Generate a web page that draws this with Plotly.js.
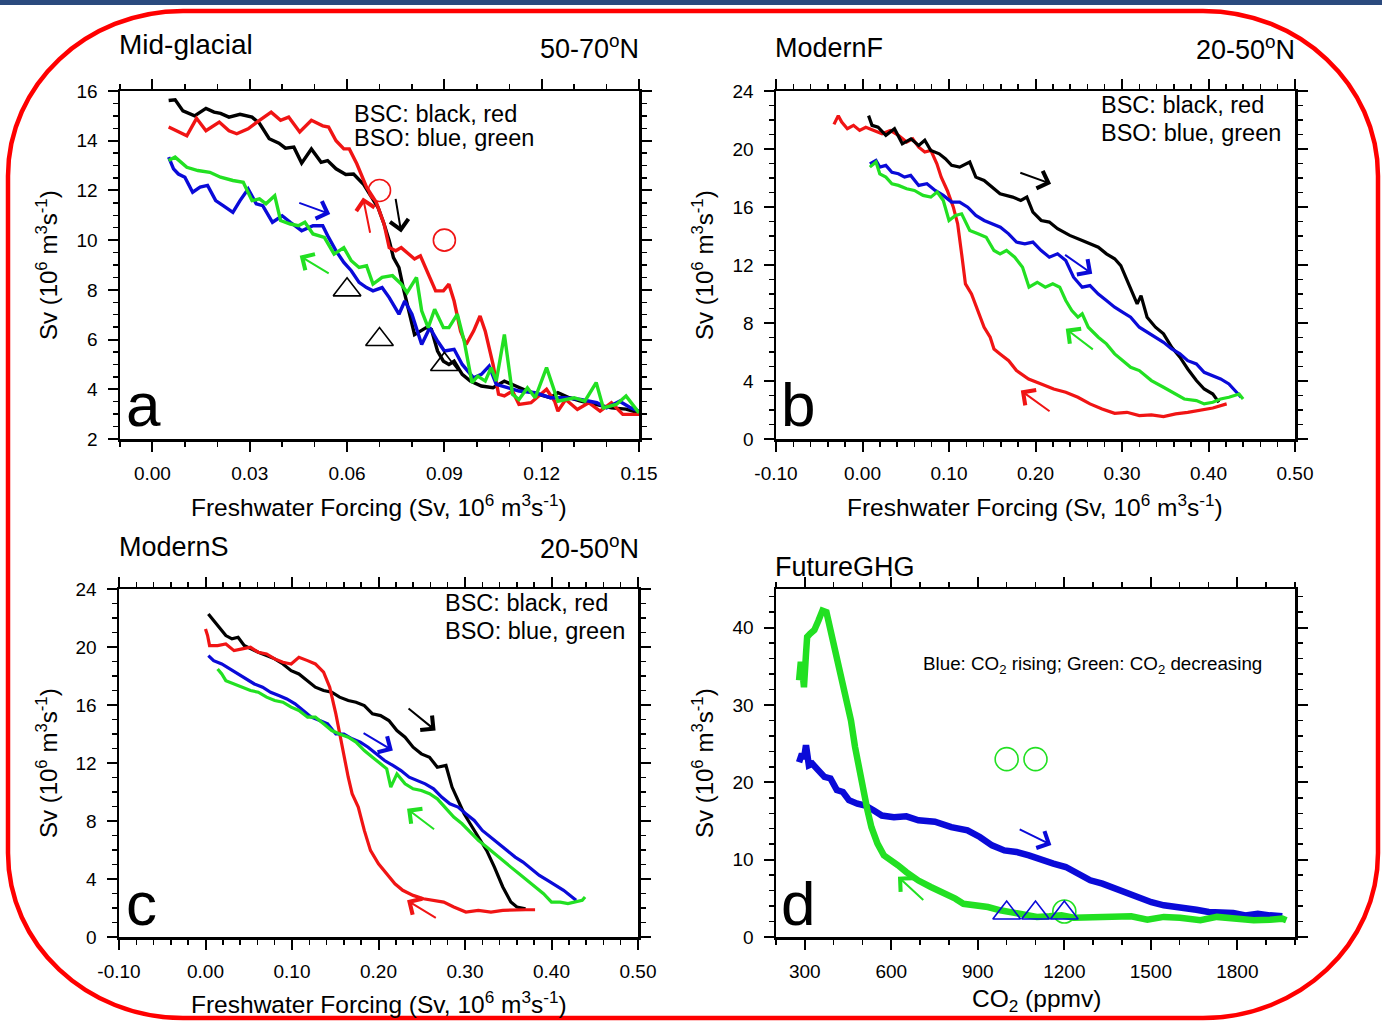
<!DOCTYPE html>
<html><head><meta charset="utf-8">
<script src="https://cdn.plot.ly/plotly-3.0.1.min.js"></script>
<style>html,body{margin:0;padding:0;background:#fff;}#chart{width:1382px;height:1024px;}</style>
</head><body><div id="chart"></div>
<script>
// ---------------- Panel a: Mid-glacial 50-70N ----------------
const aBlackX = [0.005,0.007,0.0094,0.013,0.0165,0.019,0.021,0.0236,0.027,0.0307,0.033,0.036,0.039,0.041,0.0436,0.046,0.049,0.052,0.054,0.0566,0.0596,0.062,0.065,0.067,0.0696,0.0714,0.073,0.0743,0.076,0.0773,0.0785,0.0796,0.0808,0.0826,0.0844,0.086,0.0879,0.0897,0.0914,0.093,0.0955,0.098,0.1014,0.105,0.1085,0.112,0.1156,0.119,0.1227,0.125,0.1285,0.132,0.137,0.1415,0.146,0.15];
const aBlackY = [15.62,15.65,15.2,15.0,15.3,15.15,15.1,14.95,15.06,14.95,14.7,14.08,13.9,13.7,13.74,13.1,13.67,13.13,13.2,12.87,12.64,12.66,12.26,11.86,11.3,10.65,9.98,9.3,8.9,8.1,7.42,6.75,6.2,6.34,6.48,6.4,5.54,5.13,5.0,5.13,4.6,4.33,4.13,4.06,4.33,4.13,3.93,3.8,3.66,3.86,3.66,3.52,3.39,3.25,3.2,3.05];
const aRedX = [0.005,0.008,0.0106,0.0136,0.0165,0.0206,0.0236,0.026,0.0295,0.033,0.0366,0.0395,0.042,0.0454,0.049,0.0525,0.0543,0.0566,0.059,0.0607,0.063,0.066,0.069,0.0714,0.073,0.075,0.0767,0.079,0.0808,0.0826,0.085,0.0873,0.0897,0.0914,0.093,0.095,0.0967,0.099,0.101,0.1026,0.105,0.1067,0.1085,0.111,0.113,0.1167,0.1215,0.124,0.125,0.1274,0.131,0.1345,0.138,0.1415,0.145,0.15];
const aRedY = [14.55,14.35,14.2,14.9,14.4,14.75,14.4,14.28,14.48,14.82,15.15,14.82,14.95,14.35,14.82,14.6,14.55,14.0,13.67,13.67,13.07,12.13,11.52,10.65,9.7,9.57,9.7,9.44,9.24,9.37,8.63,7.96,7.96,8.23,7.55,6.34,5.8,6.34,6.95,6.34,5.0,3.8,3.73,3.93,3.39,3.46,4.0,3.52,3.12,3.59,3.19,3.46,3.12,3.46,2.99,2.99];
const aBlueX = [0.005,0.0065,0.008,0.010,0.0124,0.0147,0.017,0.0195,0.0218,0.0248,0.027,0.0295,0.032,0.034,0.037,0.040,0.0425,0.046,0.0495,0.0525,0.0543,0.0566,0.059,0.0613,0.0637,0.066,0.068,0.0708,0.073,0.076,0.0778,0.080,0.083,0.0855,0.0879,0.090,0.093,0.0955,0.099,0.1014,0.1038,0.106,0.1097,0.113,0.118,0.1227,0.1274,0.132,0.137,0.140,0.144,0.1475,0.15];
const aBlueY = [13.34,12.87,12.66,12.53,11.93,12.13,12.2,11.59,11.39,11.12,11.59,12.06,11.46,11.39,10.72,10.98,10.72,10.38,10.58,10.58,10.11,9.57,9.1,8.77,8.3,8.09,7.96,8.09,7.69,7.02,7.55,7.02,5.8,6.48,5.94,5.54,5.61,5.0,4.46,4.6,4.93,4.2,4.06,3.93,3.86,3.66,3.66,3.59,3.46,3.25,3.52,3.25,3.12];
const aGreenX = [0.005,0.007,0.0106,0.014,0.0177,0.021,0.0248,0.028,0.0307,0.033,0.035,0.0377,0.0395,0.0425,0.045,0.047,0.0495,0.053,0.056,0.059,0.0613,0.0637,0.066,0.068,0.0708,0.074,0.0767,0.0785,0.0814,0.083,0.085,0.087,0.0897,0.0914,0.094,0.0961,0.0985,0.1003,0.1026,0.1044,0.106,0.1085,0.111,0.113,0.1156,0.118,0.1215,0.125,0.13,0.1333,0.1368,0.139,0.143,0.146,0.15];
const aGreenY = [13.2,13.34,12.93,12.8,12.73,12.53,12.4,12.33,11.59,11.66,11.46,11.79,10.79,10.65,10.58,10.72,10.25,10.11,9.44,9.7,9.17,8.9,8.97,8.23,8.5,8.57,8.23,7.89,8.5,7.16,6.48,7.22,6.48,6.48,7.02,5.94,4.27,4.53,4.33,4.87,4.33,6.2,3.8,3.59,4.06,3.66,4.87,3.52,3.66,3.52,4.27,3.25,3.39,3.73,3.05];
const aCircleX = [0.07, 0.09];
const aCircleY = [12, 10];
const aTriX = [0.06, 0.07, 0.09];
const aTriY = [8, 6, 5];
// arrows: [tailX, tailY, headX, headY]
const aArrowBlack = [0.0749, 11.72, 0.0767, 10.31];
const aArrowRed   = [0.0672, 10.24, 0.0649, 11.72];
const aArrowBlue  = [0.0448, 11.52, 0.0548, 11.05];
const aArrowGreen = [0.0548, 8.63, 0.0454, 9.37];

// ---------------- Panel b: ModernF 20-50N ----------------
const bBlackX = [0.007,0.011,0.018,0.027,0.037,0.046,0.056,0.065,0.072,0.079,0.0887,0.0958,0.103,0.1123,0.124,0.131,0.1406,0.15,0.159,0.1736,0.183,0.19,0.197,0.2066,0.216,0.2255,0.2396,0.254,0.263,0.2726,0.282,0.2915,0.2986,0.308,0.3175,0.322,0.329,0.3387,0.348,0.3575,0.367,0.376,0.386,0.395,0.405,0.412];
const bBlackY = [22.3,21.63,21.5,20.94,21.4,20.36,20.7,20.25,20.6,19.9,19.67,19.33,18.87,18.75,19.1,18.06,17.83,17.37,16.91,16.68,16.45,16.68,15.65,15.07,14.96,14.5,14.04,13.69,13.46,13.23,12.77,12.43,11.96,10.7,9.32,9.89,8.4,7.71,7.25,6.33,5.64,4.83,4.03,3.45,3.1,2.53];
const bRedX = [-0.033,-0.028,-0.024,-0.0175,-0.0104,-0.0033,0.0038,0.013,0.0226,0.032,0.0415,0.051,0.058,0.065,0.072,0.079,0.086,0.091,0.098,0.105,0.11,0.1146,0.119,0.126,0.1335,0.1406,0.1476,0.152,0.159,0.169,0.178,0.192,0.2066,0.221,0.235,0.249,0.263,0.277,0.2915,0.3057,0.32,0.334,0.348,0.362,0.376,0.39,0.405,0.421];
const bRedY = [21.7,22.3,21.86,21.4,21.63,21.28,21.5,21.28,21.05,21.28,20.94,20.48,20.7,20.13,19.79,19.9,18.98,18.06,17.14,15.99,14.84,12.77,10.7,10.0,8.86,7.71,7.02,6.2,5.87,5.4,4.72,4.14,3.8,3.45,3.22,2.88,2.42,2.07,1.77,1.84,1.61,1.66,1.54,1.73,1.84,1.96,2.14,2.42];
const bBlueX = [0.0085,0.0156,0.02,0.027,0.034,0.0415,0.0486,0.0557,0.065,0.0745,0.084,0.0934,0.103,0.1123,0.1217,0.131,0.1406,0.15,0.1594,0.1689,0.178,0.1877,0.197,0.2066,0.216,0.2255,0.235,0.244,0.254,0.263,0.2726,0.282,0.2915,0.301,0.31,0.32,0.329,0.3387,0.348,0.3575,0.367,0.376,0.386,0.395,0.405,0.414,0.4236,0.4307,0.4377];
const bBlueY = [18.98,19.21,18.75,18.87,18.4,18.29,18.06,18.18,17.49,17.6,17.14,16.8,16.34,16.34,15.99,15.42,15.07,14.84,14.61,14.15,13.58,13.46,13.58,13.0,12.54,12.77,12.31,11.16,10.47,10.58,10.0,9.55,9.09,8.74,8.4,7.71,7.36,7.02,6.67,6.21,5.87,5.4,5.18,4.6,4.37,4.14,3.8,3.34,2.88];
const bGreenX = [0.0085,0.0156,0.02,0.027,0.034,0.0415,0.051,0.06,0.07,0.079,0.0863,0.0934,0.1,0.1075,0.1146,0.124,0.1335,0.143,0.152,0.159,0.1665,0.176,0.185,0.1925,0.202,0.2113,0.22,0.228,0.235,0.242,0.249,0.254,0.261,0.2726,0.282,0.2915,0.301,0.31,0.32,0.334,0.348,0.362,0.372,0.386,0.395,0.405,0.414,0.4236,0.4354,0.44];
const bGreenY = [18.75,19.1,18.29,18.06,17.6,17.49,17.26,17.14,16.8,16.68,17.03,16.45,15.07,15.42,15.53,14.38,14.15,13.92,13.0,12.77,13.0,12.54,11.85,10.47,10.81,10.47,10.7,10.47,9.55,8.86,8.4,8.63,7.71,7.02,6.56,5.87,5.4,4.95,4.72,4.03,3.57,3.1,2.76,2.65,2.42,2.53,2.76,2.88,3.1,2.76];
const bArrowBlack = [0.1807, 18.4, 0.218, 17.6];
const bArrowBlue  = [0.2325, 12.77, 0.2656, 11.39];
const bArrowGreen = [0.268, 6.1, 0.235, 7.6];
const bArrowRed   = [0.218, 1.84, 0.183, 3.34];

// ---------------- Panel c: ModernS 20-50N ----------------
const cBlackX = [0.0033,0.0094,0.0165,0.0235,0.0306,0.0377,0.0447,0.052,0.061,0.0706,0.08,0.0895,0.099,0.108,0.118,0.127,0.1365,0.146,0.155,0.165,0.174,0.1836,0.193,0.2024,0.212,0.2213,0.2307,0.24,0.2495,0.259,0.268,0.278,0.285,0.292,0.299,0.306,0.3154,0.325,0.334,0.3437,0.353,0.36,0.37];
const cBlackY = [22.28,21.82,21.36,20.79,20.56,20.67,20.1,19.87,19.64,19.41,19.18,18.83,18.37,18.14,17.68,17.23,17.0,16.88,16.54,16.31,16.19,15.96,15.39,15.27,14.93,14.24,13.78,13.09,12.63,12.4,11.71,11.83,10.34,9.42,8.5,7.81,6.89,5.97,4.82,3.45,2.41,2.07,1.95];
const cRedX = [0.0,0.0024,0.0047,0.014,0.0235,0.033,0.0424,0.052,0.061,0.0706,0.08,0.0895,0.099,0.108,0.118,0.127,0.1365,0.1436,0.1507,0.155,0.16,0.165,0.1695,0.1766,0.1836,0.1907,0.2,0.2095,0.219,0.228,0.24,0.252,0.2637,0.2754,0.287,0.301,0.3154,0.33,0.3437,0.358,0.37,0.381];
const cRedY = [21.24,20.79,20.1,20.1,20.21,19.75,19.87,19.98,19.64,19.52,19.18,18.95,18.83,19.29,19.06,18.83,18.26,17.23,15.39,14.0,12.63,11.02,9.88,8.96,7.35,5.97,5.05,4.36,3.67,3.22,2.87,2.64,2.53,2.41,2.07,1.72,1.84,1.72,1.84,1.88,1.88,1.88];
const cBlueX = [0.0033,0.0094,0.0188,0.028,0.0377,0.047,0.0565,0.066,0.0753,0.0847,0.094,0.1036,0.113,0.1224,0.132,0.1412,0.1507,0.16,0.1695,0.179,0.188,0.1977,0.207,0.2166,0.226,0.2354,0.245,0.254,0.2637,0.273,0.2825,0.292,0.301,0.3107,0.32,0.3296,0.339,0.348,0.358,0.367,0.3766,0.386,0.3955,0.405,0.414,0.4237,0.4284];
const cBlueY = [19.41,19.06,18.83,18.49,18.14,17.8,17.45,17.23,16.88,16.65,16.42,16.08,15.62,15.16,14.93,14.7,14.0,14.0,13.67,13.44,13.09,12.63,12.17,11.83,11.48,11.02,10.79,10.56,10.22,9.65,9.19,8.96,8.5,8.04,7.35,6.89,6.43,5.97,5.51,5.17,4.71,4.25,3.9,3.56,3.22,2.76,2.53];
const cGreenX = [0.014,0.0188,0.0235,0.033,0.0424,0.052,0.061,0.0706,0.08,0.0895,0.099,0.108,0.118,0.127,0.1365,0.146,0.155,0.165,0.174,0.1836,0.193,0.2024,0.2095,0.2142,0.2213,0.2307,0.24,0.2495,0.259,0.268,0.278,0.287,0.2966,0.306,0.3154,0.325,0.334,0.3437,0.353,0.3625,0.372,0.381,0.3908,0.4,0.41,0.419,0.4284,0.4355,0.4388];
const cGreenY = [18.49,18.14,17.68,17.45,17.23,17.0,16.88,16.54,16.31,16.19,15.85,15.62,15.16,15.16,14.7,14.24,14.0,13.78,13.44,12.86,12.4,11.94,11.6,10.34,11.25,10.56,10.22,10.1,9.88,9.53,8.84,8.27,7.81,7.23,6.66,6.2,5.74,5.28,4.82,4.36,3.9,3.45,2.99,2.41,2.41,2.3,2.41,2.53,2.76];
const cArrowBlack = [0.233, 15.85, 0.266, 14.24];
const cArrowBlue  = [0.181, 14.12, 0.2166, 12.86];
const cArrowGreen = [0.266, 7.35, 0.233, 8.84];
const cArrowRed   = [0.268, 1.26, 0.233, 2.53];

// ---------------- Panel d: FutureGHG ----------------
const dBlueX = [280,290,297,304,314,326,347,368,389,411,432,453,482,510,538,567,609,652,694,751,808,864,907,949,992,1034,1077,1120,1162,1205,1247,1290,1332,1375,1417,1460,1502,1545,1601,1658,1701,1743,1786,1828,1871,1913,1956];
const dBlueY = [22.6,23.7,23.06,24.8,22.2,22.4,21.55,20.7,20.5,19.0,18.75,17.7,17.24,17.0,16.4,15.7,15.5,15.6,15.1,14.9,14.2,13.8,12.93,11.85,11.2,11.0,10.56,9.9,9.48,9.05,8.2,7.33,6.9,6.25,5.6,4.96,4.5,4.1,3.88,3.53,3.23,3.23,3.1,2.8,3.0,2.8,2.67];
const dGreenX = [280,286,292,297,304,308,318,333,347,361,375,389,403,418,432,446,460,474,489,503,517,531,552,574,595,623,652,694,737,779,822,850,893,935,978,1020,1063,1105,1148,1190,1233,1276,1318,1375,1432,1488,1545,1601,1672,1729,1786,1857,1913,1956,1970];
const dGreenY = [33.2,35.6,34.1,32.3,36.6,38.8,39.2,39.7,40.9,42.2,42.0,39.7,37.9,34.9,32.3,30.8,28.0,24.6,21.55,19.0,16.4,14.2,12.07,10.56,9.9,9.27,8.4,7.3,6.47,5.8,4.96,4.3,4.1,3.88,3.45,3.1,2.8,2.6,2.67,2.8,2.5,2.5,2.6,2.6,2.67,2.24,2.6,2.5,2.16,2.6,2.37,2.16,2.24,2.37,2.16];
const dCircleX = [1000, 1100, 1200];
const dCircleY = [23, 23, 3.3];
const dTriX = [1000, 1100, 1200];
const dTriY = [3.1, 3.1, 3.1];
const dArrowBlue  = [1040, 14.0, 1155, 11.9];
const dArrowGreen = [716, 4.6, 623, 7.8];

// tick labels
const fwTickVals = [-0.1, 0, 0.1, 0.2, 0.3, 0.4, 0.5];
const fwTickText = ['-0.10','0.00','0.10','0.20','0.30','0.40','0.50'];

// ---------------- styling helpers ----------------
const W = 1382, H = 1024;
const px = x => x / W, py = y => 1 - y / H;
const FONT = 'Liberation Sans, Arial, Helvetica, sans-serif';
const RED = '#f01414', BLACK = '#000000', BLUE = '#0a0ad8', GREEN = '#22e022';

function line(x, y, color, w, xa, ya) {
  return {x: x, y: y, type: 'scatter', mode: 'lines', xaxis: xa, yaxis: ya,
          line: {color: color, width: w}, hoverinfo: 'skip', showlegend: false};
}
function markers(x, y, sym, color, size, xa, ya) {
  return {x: x, y: y, type: 'scatter', mode: 'markers', xaxis: xa, yaxis: ya,
          marker: {symbol: sym, size: size, color: color, line: {color: color, width: 1.6}},
          hoverinfo: 'skip', showlegend: false, cliponaxis: false};
}
function ax(domain, range, extra) {
  return Object.assign({
    domain: domain, range: range, showline: true, linecolor: 'black', linewidth: 2.5,
    mirror: 'allticks', ticks: 'outside', ticklen: 10, tickwidth: 2, tickcolor: 'black',
    showgrid: false, zeroline: false, fixedrange: true,
    tickfont: {family: FONT, size: 19, color: 'black'}, ticklabelstandoff: 6
  }, extra);
}
function minor(d) {
  return {ticks: 'outside', ticklen: 5, tickwidth: 1.5, tickcolor: 'black', dtick: d, tick0: 0, showgrid: false};
}
function arrow(a, color, xr, yr) {
  return {x: a[2], y: a[3], ax: a[0], ay: a[1], xref: xr, yref: yr, axref: xr, ayref: yr,
          text: '', showarrow: true, arrowhead: 4, arrowsize: 1.8, arrowwidth: 2,
          arrowcolor: color, standoff: 0, startstandoff: 0};
}
function txt(text, x, y, size, xanchor, extra) {
  return Object.assign({text: text, x: px(x), y: py(y), xref: 'paper', yref: 'paper',
          xanchor: xanchor, yanchor: 'middle', showarrow: false,
          font: {family: FONT, size: size, color: 'black'}}, extra || {});
}

const xdomL = [px(120), px(639)], xdomR = [px(776), px(1295)];
const xdomC = [px(119), px(638)];
const ydomT = [py(439), py(91)], ydomB = [py(937), py(589)];

const traces = [
  line(aBlackX, aBlackY, BLACK, 3.4, 'x', 'y'),
  line(aRedX, aRedY, RED, 3.4, 'x', 'y'),
  line(aBlueX, aBlueY, BLUE, 3.4, 'x', 'y'),
  line(aGreenX, aGreenY, GREEN, 3.4, 'x', 'y'),
  markers(aCircleX, aCircleY, 'circle-open', RED, 22, 'x', 'y'),
  markers(aTriX, aTriY, 'triangle-up-open', BLACK, 24, 'x', 'y'),

  line(bRedX, bRedY, RED, 3.2, 'x2', 'y2'),
  line(bBlackX, bBlackY, BLACK, 3.2, 'x2', 'y2'),
  line(bBlueX, bBlueY, BLUE, 3.2, 'x2', 'y2'),
  line(bGreenX, bGreenY, GREEN, 3.2, 'x2', 'y2'),

  line(cBlackX, cBlackY, BLACK, 3.2, 'x3', 'y3'),
  line(cRedX, cRedY, RED, 3.2, 'x3', 'y3'),
  line(cBlueX, cBlueY, BLUE, 3.2, 'x3', 'y3'),
  line(cGreenX, cGreenY, GREEN, 3.2, 'x3', 'y3'),

  line(dBlueX, dBlueY, BLUE, 6.5, 'x4', 'y4'),
  line(dGreenX, dGreenY, GREEN, 6.5, 'x4', 'y4'),
  markers(dCircleX, dCircleY, 'circle-open', GREEN, 23, 'x4', 'y4'),
  markers(dTriX, dTriY, 'triangle-up-open', BLUE, 24, 'x4', 'y4')
];

const ytitle = 'Sv (10<sup>6</sup> m<sup>3</sup>s<sup>-1</sup>)';
const xtitle = 'Freshwater Forcing (Sv, 10<sup>6</sup> m<sup>3</sup>s<sup>-1</sup>)';

const annotations = [
  txt('Mid-glacial', 117, 44, 28, 'left'),
  txt('50-70<sup>o</sup>N', 641, 47, 27, 'right'),
  txt('ModernF', 773, 48, 27, 'left'),
  txt('20-50<sup>o</sup>N', 1297, 48, 27, 'right'),
  txt('ModernS', 117, 547, 27, 'left'),
  txt('20-50<sup>o</sup>N', 641, 547, 27, 'right'),
  txt('FutureGHG', 773, 567, 27, 'left'),

  txt('BSC: black, red', 352, 114, 23.5, 'left'),
  txt('BSO: blue, green', 352, 138, 23.5, 'left'),
  txt('BSC: black, red', 1099, 105, 23.5, 'left'),
  txt('BSO: blue, green', 1099, 133, 23.5, 'left'),
  txt('BSC: black, red', 443, 603, 23.5, 'left'),
  txt('BSO: blue, green', 443, 631, 23.5, 'left'),
  txt('Blue: CO<sub>2</sub> rising; Green: CO<sub>2</sub> decreasing', 921, 665, 18.8, 'left'),

  txt('a', 124, 404, 62, 'left'),
  txt('b', 779, 404, 62, 'left'),
  txt('c', 124, 903, 62, 'left'),
  txt('d', 779, 903, 62, 'left'),

  txt(ytitle, 47, 265, 24, 'center', {textangle: -90}),
  txt(ytitle, 703, 265, 24, 'center', {textangle: -90}),
  txt(ytitle, 47, 763, 24, 'center', {textangle: -90}),
  txt(ytitle, 703, 763, 24, 'center', {textangle: -90}),
  txt(xtitle, 379, 505, 24.5, 'center'),
  txt(xtitle, 1035, 505, 24.5, 'center'),
  txt(xtitle, 379, 1002, 24.5, 'center'),
  txt('CO<sub>2</sub> (ppmv)', 1036, 1000, 24.5, 'center'),

  arrow(aArrowBlack, BLACK, 'x', 'y'),
  arrow(aArrowRed, RED, 'x', 'y'),
  arrow(aArrowBlue, BLUE, 'x', 'y'),
  arrow(aArrowGreen, GREEN, 'x', 'y'),
  arrow(bArrowBlack, BLACK, 'x2', 'y2'),
  arrow(bArrowBlue, BLUE, 'x2', 'y2'),
  arrow(bArrowGreen, GREEN, 'x2', 'y2'),
  arrow(bArrowRed, RED, 'x2', 'y2'),
  arrow(cArrowBlack, BLACK, 'x3', 'y3'),
  arrow(cArrowBlue, BLUE, 'x3', 'y3'),
  arrow(cArrowGreen, GREEN, 'x3', 'y3'),
  arrow(cArrowRed, RED, 'x3', 'y3'),
  arrow(dArrowBlue, BLUE, 'x4', 'y4'),
  arrow(dArrowGreen, GREEN, 'x4', 'y4')
];

// rounded red frame (elliptical corners via cubic curves)
function roundedPath(L, T, R, B, rx, ry) {
  const k = 0.5523;
  const P = (x, y) => px(x).toFixed(5) + ',' + py(y).toFixed(5);
  return 'M' + P(L + rx, T) + ' L' + P(R - rx, T) +
    ' C' + P(R - rx + k * rx, T) + ' ' + P(R, T + ry - k * ry) + ' ' + P(R, T + ry) +
    ' L' + P(R, B - ry) +
    ' C' + P(R, B - ry + k * ry) + ' ' + P(R - rx + k * rx, B) + ' ' + P(R - rx, B) +
    ' L' + P(L + rx, B) +
    ' C' + P(L + rx - k * rx, B) + ' ' + P(L, B - ry + k * ry) + ' ' + P(L, B - ry) +
    ' L' + P(L, T + ry) +
    ' C' + P(L, T + ry - k * ry) + ' ' + P(L + rx - k * rx, T) + ' ' + P(L + rx, T) + ' Z';
}

const shapes = [
  {type: 'rect', xref: 'paper', yref: 'paper', x0: 0, x1: 1, y0: py(5), y1: 1,
   fillcolor: '#2b4a7e', line: {width: 0}, layer: 'above'},
  {type: 'path', xref: 'paper', yref: 'paper', path: roundedPath(8, 11, 1378, 1018, 175, 165),
   line: {color: '#ff0000', width: 4.5}, fillcolor: 'rgba(0,0,0,0)', layer: 'above'}
];

const layout = {
  width: W, height: H, margin: {l: 0, r: 0, t: 0, b: 0},
  paper_bgcolor: 'white', plot_bgcolor: 'white',
  font: {family: FONT, color: 'black'},
  showlegend: false,
  xaxis: ax(xdomL, [-0.01, 0.15], {anchor: 'y', tick0: 0, dtick: 0.03, tickformat: '.2f', minor: minor(0.01)}),
  yaxis: ax(ydomT, [2, 16], {anchor: 'x', tick0: 2, dtick: 2, minor: minor(0.5)}),
  xaxis2: ax(xdomR, [-0.1, 0.5], {anchor: 'y2', tickmode: 'array', tickvals: fwTickVals, ticktext: fwTickText, minor: minor(0.02)}),
  yaxis2: ax(ydomT, [0, 24], {anchor: 'x2', tick0: 0, dtick: 4, minor: minor(1)}),
  xaxis3: ax(xdomC, [-0.1, 0.5], {anchor: 'y3', tickmode: 'array', tickvals: fwTickVals, ticktext: fwTickText, minor: minor(0.02)}),
  yaxis3: ax(ydomB, [0, 24], {anchor: 'x3', tick0: 0, dtick: 4, minor: minor(1)}),
  xaxis4: ax(xdomR, [200, 2000], {anchor: 'y4', tick0: 300, dtick: 300, minor: minor(100)}),
  yaxis4: ax(ydomB, [0, 45], {anchor: 'x4', tick0: 0, dtick: 10, minor: minor(2)}),
  annotations: annotations,
  shapes: shapes
};

Plotly.newPlot('chart', traces, layout, {staticPlot: true, displayModeBar: false});
</script></body></html>
